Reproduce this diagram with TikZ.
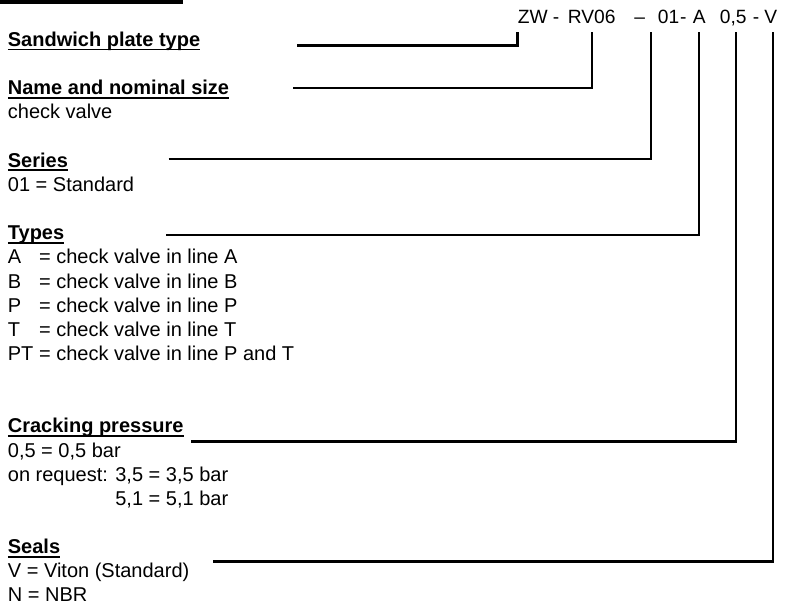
\documentclass[tikz,border=0pt]{standalone}
\usepackage{fontspec}
\setmainfont{Liberation Sans}
\usetikzlibrary{calc}

% bold heading with a low underline
\newcommand\hdline[1]{\setbox0\hbox{#1}\rlap{\rule[-2pt]{\wd0}{0.95pt}}\box0}

\begin{document}
\begin{tikzpicture}[x=0.5pt,y=-0.5pt,
        txt/.style={anchor=base west,inner sep=0pt,font=\fontsize{10}{12}\selectfont},
        head/.style={txt,font=\fontsize{10}{12}\selectfont\bfseries},
        code/.style={anchor=base west,inner sep=0pt,font=\fontsize{9.6}{11.5}\selectfont},
        lead/.style={line width=1.15pt}]

        \useasboundingbox (0,0) rectangle (785,610);

        % bar of the title, cut off at the top
        \fill (0,0) rectangle (183,4);

        % the order code
        \node[code] (fzw) at (517.5,23.5) {ZW};
        \node[code] (s1) at (552.5,23.5) {-};
        \node[code] (frv) at (567.5,23.5) {RV06};
        \node[code] (s2) at (634,23.5) {--};
        \node[code] (fser) at (657.5,23.5) {01};
        \node[code] (s3) at (fser.base east) {-};
        \node[code] (ftyp) at (692.5,23.5) {A};
        \node[code] (fprs) at (719.5,23.5) {0,5};
        \node[code] (s4) at (752.5,23.5) {-};
        \node[code] (fsl) at (764,23.5) {V};

        % headings and their entries
        \node[head] (hsand) at (7.5,46.5) {\hdline{Sandwich plate type}};
        \node[head] (hname) at (7.5,94.8) {\hdline{Name and nominal size}};
        \node[txt] (dname) at (7.5,118.95) {check valve};
        \node[head] (hser) at (7.5,167.25) {\hdline{Series}};
        \node[txt] (dser) at (7.5,191.4) {01 = Standard};
        \node[head] (htyp) at (7.5,239.7) {\hdline{Types}};
        \foreach \c/\t [count=\i] in {A/A, B/B, P/P, T/T, PT/P and T}
            \node[txt] (dtyp\i) at (7.5,{239.7+\i*24.15}) {\makebox[15.6pt][l]{\c}= check valve in line \t};
        \node[head] (hprs) at (7.5,432.9) {\hdline{Cracking pressure}};
        \node[txt] (dprs1) at (7.5,457.05) {0,5 = 0,5 bar};
        \node[txt] (dprs2) at (7.5,481.2) {on request: 3,5 = 3,5 bar};
        \node[txt] (dprs3) at (7.5,505.35) {\hphantom{on request: }5,1 = 5,1 bar};
        \node[head] (hsl) at (7.5,553.65) {\hdline{Seals}};
        \node[txt] (dsl1) at (7.5,577.8) {V = Viton (Standard)};
        \node[txt] (dsl2) at (7.5,601.95) {N = NBR};

        % free ends of the leaders
        \coordinate (top) at (0,32.5);
        \coordinate (l1) at (297,45.5);
        \coordinate (l2) at (293,88.3);
        \coordinate (l3) at (168.5,159);
        \coordinate (l4) at (166,235);
        \coordinate (l5) at (191,441.5);
        \coordinate (l6) at (213,561.5);

        \draw[lead] (l1) -| (fzw.west |- top);
        \draw[lead] (l2) -| (frv.center |- top);
        \draw[lead] (l3) -| ($(fser.west |- top)+(-6.5,0)$);
        \draw[lead] (l4) -| (ftyp.center |- top);
        \draw[lead] (l5) -| ($(fprs.center |- top)+(3,0)$);
        \draw[lead] (l6) -| ($(fsl.center |- top)+(2.5,0)$);

    \end{tikzpicture}
\end{document}
